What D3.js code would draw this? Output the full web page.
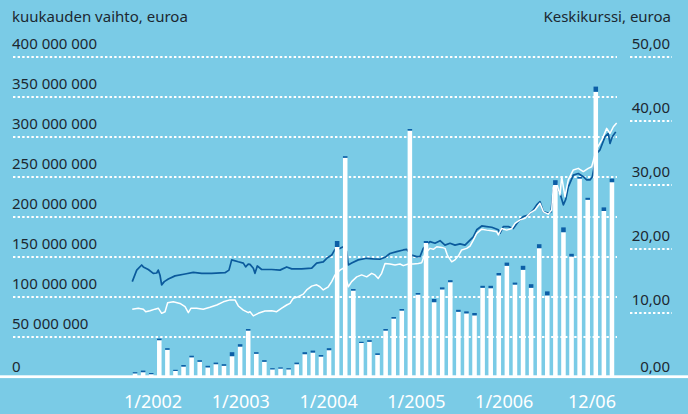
<!DOCTYPE html>
<html>
<head>
<meta charset="utf-8">
<script src="https://cdn.jsdelivr.net/npm/d3@7"></script>
<style>
  body { margin: 0; background: #7acbe6; }
  svg { display: block; font-family: "Noto Sans", sans-serif; }
</style>
</head>
<body>
<div id="chart"></div>
<script>
// monthly turnover, millions of euros (total bar height) and the dark part on top
var volumeTotal = [6, 8, 5, 48, 36, 9, 15, 26.6, 21, 14, 18, 16,
  31, 41, 60, 31, 21, 11, 12, 11, 18, 31, 33, 27.5,
  36, 170, 276, 110, 44, 46, 29.6, 60, 75, 85, 310, 105,
  170, 97.5, 112, 121, 84, 82, 80, 114, 114, 130, 143, 118,
  139, 116, 166, 107, 246, 187, 154, 250, 224, 363, 212, 248];
var volumeDark = [1.5, 2, 1.5, 2, 2, 1.5, 2, 2, 2, 2, 2, 2,
  5, 3, 2, 2, 2, 1.5, 1.5, 1.5, 2, 2.5, 2.5, 2,
  2.5, 7.5, 2, 2, 1.5, 2, 2, 2, 2, 2, 2, 2,
  2.5, 4, 2.5, 2.5, 2.5, 2.5, 3, 2.5, 3, 3, 4, 2.5,
  5, 4.5, 5, 5, 6, 6, 3.5, 2, 2.5, 6.5, 4.5, 4.5];

// average price, dark line (decimal year, euros)
var darkDates = [2002.013, 2002.059, 2002.11, 2002.127, 2002.178, 2002.23, 2002.265, 2002.281, 2002.299, 2002.316,
  2002.343, 2002.385, 2002.454, 2002.557, 2002.642, 2002.729, 2002.832, 2002.969, 2003.01, 2003.038,
  2003.106, 2003.158, 2003.182, 2003.209, 2003.227, 2003.261, 2003.278, 2003.302, 2003.347, 2003.451,
  2003.536, 2003.605, 2003.657, 2003.76, 2003.863, 2003.914, 2003.982, 2004.018, 2004.069, 2004.103,
  2004.155, 2004.189, 2004.224, 2004.24, 2004.275, 2004.343, 2004.43, 2004.498, 2004.567, 2004.619,
  2004.67, 2004.739, 2004.807, 2004.842, 2004.894, 2004.945, 2004.979, 2005.013, 2005.082, 2005.134,
  2005.186, 2005.237, 2005.289, 2005.34, 2005.392, 2005.443, 2005.495, 2005.529, 2005.564, 2005.616,
  2005.667, 2005.719, 2005.787, 2005.804, 2005.838, 2005.89, 2005.941, 2005.993, 2006.044, 2006.096,
  2006.148, 2006.182, 2006.216, 2006.251, 2006.302, 2006.33, 2006.354, 2006.389, 2006.423, 2006.457,
  2006.481, 2006.508, 2006.56, 2006.611, 2006.663, 2006.698, 2006.732, 2006.756, 2006.801, 2006.835,
  2006.887, 2006.921, 2006.938, 2006.962, 2006.997];
var darkPrice = [14.9, 16.7, 17.5, 17.2, 16.8, 16.2, 16.25, 16.7, 15.9, 14.4,
  14.9, 15.3, 15.8, 16.1, 16.35, 16.2, 16.2, 16.3, 16.7, 18.3,
  18.0, 17.8, 17.2, 17.65, 17.6, 17.0, 16.2, 17.35, 16.8, 16.8,
  16.7, 17.2, 16.9, 16.9, 17.0, 17.8, 18.0, 18.55, 19.05, 19.95,
  20.1, 20.35, 19.6, 17.5, 17.8, 18.3, 18.55, 18.45, 18.4, 18.7,
  19.3, 19.6, 19.85, 19.95, 19.05, 18.8, 18.8, 20.1, 21.15, 20.9,
  21.3, 20.6, 20.9, 20.6, 20.8, 20.6, 21.4, 21.9, 23.0, 23.6,
  23.5, 23.4, 23.0, 22.45, 23.5, 23.5, 23.2, 24.3, 25.05, 25.3,
  26.1, 26.9, 27.4, 25.8, 25.6, 25.8, 29.2, 29.7, 28.7, 26.9,
  27.7, 29.7, 31.55, 31.8, 31.3, 30.8, 30.8, 31.3, 34.95, 35.5,
  37.55, 38.05, 36.5, 37.55, 38.3];

// average price, white line (decimal year, euros)
var whiteDates = [2002.013, 2002.075, 2002.127, 2002.152, 2002.196, 2002.247, 2002.281, 2002.316, 2002.351, 2002.378,
  2002.436, 2002.505, 2002.557, 2002.591, 2002.619, 2002.677, 2002.745, 2002.814, 2002.884, 2002.952,
  2003.021, 2003.072, 2003.106, 2003.158, 2003.209, 2003.227, 2003.261, 2003.312, 2003.381, 2003.451,
  2003.502, 2003.554, 2003.605, 2003.639, 2003.673, 2003.725, 2003.776, 2003.811, 2003.863, 2003.914,
  2003.948, 2003.982, 2004.034, 2004.069, 2004.103, 2004.155, 2004.189, 2004.24, 2004.275, 2004.327,
  2004.378, 2004.43, 2004.481, 2004.515, 2004.549, 2004.584, 2004.619, 2004.67, 2004.722, 2004.773,
  2004.807, 2004.859, 2004.91, 2004.962, 2004.997, 2005.031, 2005.082, 2005.117, 2005.152, 2005.203,
  2005.237, 2005.261, 2005.306, 2005.34, 2005.374, 2005.409, 2005.461, 2005.495, 2005.529, 2005.564,
  2005.616, 2005.667, 2005.719, 2005.77, 2005.787, 2005.822, 2005.873, 2005.925, 2005.959, 2006.01,
  2006.062, 2006.113, 2006.165, 2006.216, 2006.251, 2006.302, 2006.337, 2006.354, 2006.389, 2006.423,
  2006.44, 2006.474, 2006.508, 2006.56, 2006.611, 2006.663, 2006.714, 2006.749, 2006.801, 2006.853,
  2006.904, 2006.938, 2006.973, 2007.007];
var whitePrice = [10.6, 10.75, 10.6, 10.2, 10.35, 10.6, 10.75, 9.95, 10.2, 11.6,
  11.75, 11.5, 11.0, 10.05, 10.75, 10.75, 10.6, 10.9, 11.25, 11.75,
  12.05, 12.05, 11.1, 10.45, 10.05, 10.2, 9.55, 9.95, 10.3, 10.35,
  10.2, 10.75, 11.25, 11.5, 12.3, 12.55, 12.95, 13.6, 14.2, 14.4,
  14.1, 13.6, 14.1, 14.9, 15.95, 16.7, 17.0, 14.1, 14.9, 15.65,
  15.95, 15.65, 16.2, 15.95, 15.4, 16.2, 17.75, 17.65, 17.5, 17.65,
  17.4, 17.65, 17.65, 17.75, 17.85, 19.3, 20.1, 19.95, 20.35, 20.25,
  20.1, 19.05, 18.0, 18.3, 18.9, 19.85, 20.1, 20.45, 21.4, 22.45,
  23.1, 22.95, 22.85, 22.7, 22.2, 23.2, 22.95, 23.2, 24.0, 24.55,
  24.8, 25.6, 26.1, 27.15, 25.8, 25.45, 26.1, 29.7, 30.25, 28.45,
  31.3, 28.15, 30.8, 32.35, 32.6, 32.1, 32.6, 32.85, 35.7, 37.0,
  38.85, 38.05, 39.1, 39.7];

var leftTicks = [0, 50e6, 100e6, 150e6, 200e6, 250e6, 300e6, 350e6, 400e6];
var rightTicks = [0, 10, 20, 30, 40, 50];
var xLabels = ["1/2002", "1/2003", "1/2004", "1/2005", "1/2006", "12/06"];

var width = 688, height = 414;
var months = d3.range(volumeTotal.length);

var svg = d3.select("#chart").append("svg")
  .attr("width", width)
  .attr("height", height);

svg.append("rect")
  .attr("width", width)
  .attr("height", height)
  .attr("fill", "#7acbe6");

var y = d3.scaleLinear().domain([0, 400e6]).range([377, 57]);
var y2 = d3.scaleLinear().domain([0, 50]).range([377, 57]);
var x = d3.scaleBand().domain(months).range([131, 616]).paddingInner(0.44).paddingOuter(0.22);
var xt = d3.scaleLinear().domain([2002, 2007]).range([131, 616]);
var xl = d3.scalePoint().domain(xLabels).range([153, 592]);

var ink = "#1c2831";

// titles
svg.append("text").attr("x", 12).attr("y", 22)
  .attr("font-size", 15).attr("fill", ink)
  .text("kuukauden vaihto, euroa");
svg.append("text").attr("x", 671).attr("y", 22)
  .attr("font-size", 15).attr("fill", ink).attr("text-anchor", "end")
  .text("Keskikurssi, euroa");

// left gridlines + labels
svg.append("g").selectAll("line")
  .data(leftTicks.filter(function (d) { return d > 0; }))
  .enter().append("line")
  .attr("x1", 13).attr("x2", 617)
  .attr("y1", function (d) { return y(d); })
  .attr("y2", function (d) { return y(d); })
  .attr("stroke", "#fff")
  .attr("stroke-width", 1.8)
  .attr("stroke-dasharray", "2.4,2.2");

svg.append("g").selectAll("text")
  .data(leftTicks)
  .enter().append("text")
  .attr("x", 12)
  .attr("y", function (d) { return d === 0 ? 372 : y(d) - 8.5; })
  .attr("font-size", 15)
  .attr("fill", ink)
  .text(function (d) { return d3.format(",")(d).replace(/,/g, " "); });

// right ticks (short dotted segments under the labels)
svg.append("g").selectAll("line")
  .data(rightTicks.filter(function (d) { return d > 0; }))
  .enter().append("line")
  .attr("x1", 630).attr("x2", 672)
  .attr("y1", function (d) { return y2(d); })
  .attr("y2", function (d) { return y2(d); })
  .attr("stroke", "#fff")
  .attr("stroke-width", 1.8)
  .attr("stroke-dasharray", "2.4,2.2");

svg.append("g").selectAll("text")
  .data(rightTicks)
  .enter().append("text")
  .attr("x", 670)
  .attr("y", function (d) { return d === 0 ? 372 : y2(d) - 8.5; })
  .attr("font-size", 15)
  .attr("fill", ink)
  .attr("text-anchor", "end")
  .text(function (d) { return d3.format(".2f")(d).replace(".", ","); });

// price lines
var line = d3.line()
  .x(function (d) { return xt(d[0]); })
  .y(function (d) { return y2(d[1]); });

svg.append("path")
  .datum(d3.zip(darkDates, darkPrice))
  .attr("fill", "none")
  .attr("stroke", "#0b5a9c")
  .attr("stroke-width", 1.7)
  .attr("stroke-linejoin", "round")
  .attr("d", line);

svg.append("path")
  .datum(d3.zip(whiteDates, whitePrice))
  .attr("fill", "none")
  .attr("stroke", "#fff")
  .attr("stroke-width", 1.5)
  .attr("stroke-linejoin", "round")
  .attr("d", line);

// stacked bars: white part, dark cap on top
var bars = svg.append("g").selectAll("g")
  .data(months)
  .enter().append("g");

bars.append("rect")
  .attr("x", function (i) { return x(i); })
  .attr("width", x.bandwidth())
  .attr("y", function (i) { return y((volumeTotal[i] - volumeDark[i]) * 1e6); })
  .attr("height", function (i) { return y(0) - y((volumeTotal[i] - volumeDark[i]) * 1e6); })
  .attr("fill", "#fff");

bars.append("rect")
  .attr("x", function (i) { return x(i); })
  .attr("width", x.bandwidth())
  .attr("y", function (i) { return y(volumeTotal[i] * 1e6); })
  .attr("height", function (i) { return y((volumeTotal[i] - volumeDark[i]) * 1e6) - y(volumeTotal[i] * 1e6); })
  .attr("fill", "#0c5ea6");

// baseline
svg.append("rect")
  .attr("x", 0).attr("width", width)
  .attr("y", 375.3).attr("height", 2.8)
  .attr("fill", "#fff");

// x labels
svg.append("g").selectAll("text")
  .data(xLabels)
  .enter().append("text")
  .attr("x", function (d) { return xl(d); })
  .attr("y", 408)
  .attr("font-size", 18)
  .attr("fill", "#fff")
  .attr("text-anchor", "middle")
  .text(function (d) { return d; });
</script>
</body>
</html>
